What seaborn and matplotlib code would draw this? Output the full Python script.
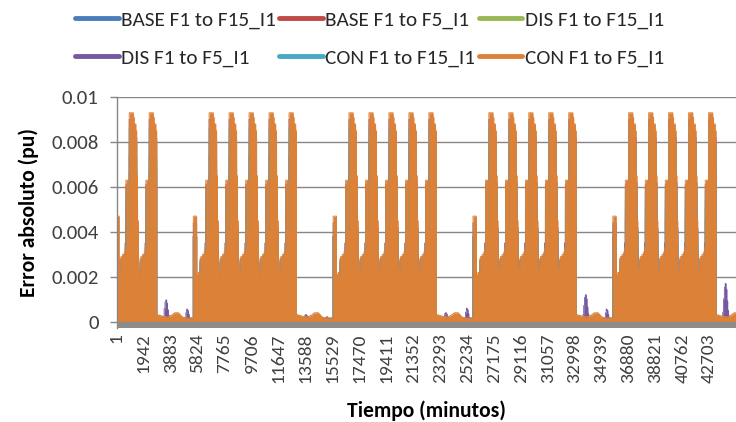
import numpy as np
import pandas as pd
import matplotlib
matplotlib.use("Agg")
import matplotlib.pyplot as plt
import seaborn as sns

# ---------------- data ----------------
series_names = ["BASE F1 to F15_I1", "BASE F1 to F5_I1", "DIS F1 to F15_I1",
                "DIS F1 to F5_I1", "CON F1 to F15_I1", "CON F1 to F5_I1"]
series_colors = ["#4A7EBB", "#BE4B48", "#98B954", "#7459A0", "#46AAC5", "#DC8138"]

# day kinds over the 31 days (44640 minutes)
day_kind = ["start", "wd", "sat", "sun", "mon", "wd", "wd", "wd", "wd",
            "sat", "sun", "mon", "wd", "wd", "wd", "wd",
            "sat", "sun", "mon", "wd", "wd", "wd", "wd",
            "sat", "sun", "mon", "wd", "wd", "wd", "wd", "sat"]

# hourly envelope of CON F1 to F5_I1 (orange)
con5_wd = [0.0065, 0.0045, 0.0024, 0.0021, 0.0028, 0.0029, 0.0029, 0.0030,
           0.0030, 0.0031, 0.0033, 0.0063, 0.0063, 0.0063, 0.0040, 0.0093,
           0.0093, 0.0093, 0.0093, 0.0093, 0.0091, 0.0088, 0.0088, 0.0085]
con5_mon_head = [0.0021, 0.0021, 0.0022, 0.0021]
con5_start_head = [0.0047, 0.0047, 0.0047, 0.0021]
con5_sat = [0.00032, 0.00030, 0.00030, 0.00028, 0.00027, 0.00026, 0.00025, 0.00024,
            0.00024, 0.00023, 0.00023, 0.00022, 0.00022, 0.00022, 0.00023, 0.00024,
            0.00026, 0.00028, 0.00030, 0.00033, 0.00036, 0.00038, 0.00040, 0.00040]
con5_sun = [0.00040, 0.00040, 0.00038, 0.00034, 0.00030, 0.00026, 0.00022, 0.00020,
            0.00019, 0.00018, 0.00018, 0.00017, 0.00017, 0.00016, 0.00016, 0.00016,
            0.00017, 0.00018, 0.00018, 0.00018, 0.0047, 0.0047, 0.0047, 0.0047]

# DIS F1 to F5_I1 (purple)
dis5_wd = [0.0062, 0.0042, 0.0023, 0.0020, 0.0027, 0.0028, 0.0028, 0.0029,
           0.0029, 0.0030, 0.0035, 0.0061, 0.0061, 0.0061, 0.0038, 0.0090,
           0.0090, 0.0090, 0.0090, 0.0090, 0.0088, 0.0086, 0.0085, 0.0082]
dis5_head = [0.0020, 0.0020, 0.0020, 0.0020]
dis5_weekend_base = 0.00015
dis5_sat_peak = [0.00097, 0.00032, 0.00040, 0.00120, 0.00170]
dis5_sun_peak = [0.00056, 0.00022, 0.00060, 0.00056]
sat_bump = [0, 0, 0, 0, 0, 0, 0, 0, 0.25, 0.6, 0.9, 1.0, 0.85, 0.55, 0.3, 0.15,
            0, 0, 0, 0, 0, 0, 0, 0]
sun_bump = [0, 0, 0, 0, 0, 0, 0, 0, 0, 0, 0.3, 0.7, 1.0, 0.9, 0.6, 0.3, 0.1,
            0, 0, 0, 0, 0, 0, 0]

# hidden series (all lie beneath the orange area)
base15_wd = [0.0050, 0.0035, 0.0019, 0.0017, 0.0022, 0.0023, 0.0023, 0.0024,
             0.0024, 0.0025, 0.0026, 0.0050, 0.0050, 0.0050, 0.0032, 0.0074,
             0.0074, 0.0074, 0.0074, 0.0074, 0.0072, 0.0070, 0.0070, 0.0068]
base5_wd = [0.0045, 0.0031, 0.0017, 0.0015, 0.0020, 0.0021, 0.0021, 0.0021,
            0.0021, 0.0022, 0.0023, 0.0045, 0.0045, 0.0045, 0.0028, 0.0066,
            0.0066, 0.0066, 0.0066, 0.0066, 0.0064, 0.0062, 0.0062, 0.0060]
dis15_wd = [0.0055, 0.0038, 0.0020, 0.0018, 0.0024, 0.0025, 0.0025, 0.0026,
            0.0026, 0.0027, 0.0028, 0.0054, 0.0054, 0.0054, 0.0034, 0.0080,
            0.0080, 0.0080, 0.0080, 0.0080, 0.0078, 0.0075, 0.0075, 0.0073]
con15_wd = [0.0060, 0.0041, 0.0022, 0.0019, 0.0026, 0.0027, 0.0027, 0.0028,
            0.0028, 0.0029, 0.0030, 0.0058, 0.0058, 0.0058, 0.0036, 0.0086,
            0.0086, 0.0086, 0.0086, 0.0086, 0.0084, 0.0081, 0.0081, 0.0079]
hidden_head = [0.0016, 0.0016, 0.0016, 0.0016]
hidden_weekend = [0.00012, 0.00010, 0.00011, 0.00013]
hidden_sun_spike = 0.0038

y_ticks = [0, 0.002, 0.004, 0.006, 0.008, 0.01]
y_tick_labels = ["0", "0.002", "0.004", "0.006", "0.008", "0.01"]
x_tick_labels = [1, 1942, 3883, 5824, 7765, 9706, 11647, 13588, 15529, 17470,
                 19411, 21352, 23293, 25234, 27175, 29116, 31057, 32998, 34939,
                 36880, 38821, 40762, 42703]
last_minute = 44640

# ---------------- build hourly series ----------------
def orange_day(kind):
    if kind == "wd":
        return list(con5_wd)
    if kind == "mon":
        return con5_mon_head + con5_wd[4:]
    if kind == "start":
        return con5_start_head + con5_wd[4:]
    if kind == "sat":
        return list(con5_sat)
    return list(con5_sun)

def purple_days():
    out = []
    si = ui = 0
    for k in day_kind:
        if k == "wd":
            out += dis5_wd
        elif k in ("mon", "start"):
            out += dis5_head + dis5_wd[4:]
        elif k == "sat":
            out += [max(dis5_weekend_base, dis5_sat_peak[si] * b) for b in sat_bump]
            si += 1
        else:
            day = [max(dis5_weekend_base, dis5_sun_peak[ui] * b) for b in sun_bump]
            day[20:] = [0.0044] * 4
            out += day
            ui += 1
    return out

def hidden_days(wd, wkend):
    out = []
    for k in day_kind:
        if k == "wd":
            out += wd
        elif k in ("mon", "start"):
            out += hidden_head + wd[4:]
        else:
            day = [wkend] * 24
            if k == "sun":
                day[20:] = [hidden_sun_spike] * 4
            out += day
    return out

orange = sum((orange_day(k) for k in day_kind), [])
values = {
    series_names[0]: hidden_days(base15_wd, hidden_weekend[0]),
    series_names[1]: hidden_days(base5_wd, hidden_weekend[1]),
    series_names[2]: hidden_days(dis15_wd, hidden_weekend[2]),
    series_names[3]: purple_days(),
    series_names[4]: hidden_days(con15_wd, hidden_weekend[3]),
    series_names[5]: orange,
}
n_hours = len(day_kind) * 24
minutes = [1 + 60 * h for h in range(n_hours)] + [last_minute]

rows = []
for name in series_names:
    v = values[name] + [values[name][-1]]
    for m, val in zip(minutes, v):
        rows.append((m, val, name))
df = pd.DataFrame(rows, columns=["minute", "value", "series"])

# ---------------- plot ----------------
sns.set_theme(style="white")
plt.rcParams["font.family"] = ["Carlito", "Lato", "DejaVu Sans"]

fig = plt.figure(figsize=(7.36, 4.22), dpi=100)
ax = fig.add_axes([116.7 / 736, 1 - 328 / 422, (736 - 116.7) / 736, (328 - 97) / 422])

palette = dict(zip(series_names, series_colors))
sns.lineplot(data=df, x="minute", y="value", hue="series", hue_order=series_names,
             palette=palette, estimator=None, drawstyle="steps-post",
             linewidth=0.6, ax=ax)

for i, name in enumerate(series_names):
    sub = df[df.series == name]
    ax.fill_between(sub["minute"], 0, sub["value"], step="post",
                    color=palette[name], linewidth=0, zorder=2 + i * 0.1)
for line in ax.lines:
    col = matplotlib.colors.to_hex(line.get_color()).upper()
    for i, c in enumerate(series_colors):
        if c.upper() == col:
            line.set_zorder(2 + i * 0.1 + 0.05)

ybot = -0.00028
ax.set_ylim(ybot, 0.01)
ax.set_xlim(1, last_minute)
ax.axhspan(ybot, 0, color="#8C8C8C", zorder=3, linewidth=0)

ax.set_yticks(y_ticks)
ax.set_yticklabels(y_tick_labels)
ax.set_xticks(x_tick_labels)
ax.set_xticklabels([str(t) for t in x_tick_labels], rotation=90)
ax.tick_params(axis="y", labelsize=15, length=5, width=1,
               direction="out", left=True, pad=8, color="#868686")
ax.tick_params(axis="x", labelsize=14, length=0, pad=4)
for lab in ax.get_yticklabels() + ax.get_xticklabels():
    lab.set_color("#404040")

ax.yaxis.grid(True, color="#868686", linewidth=1)
ax.xaxis.grid(False)
ax.set_axisbelow(True)
for s in ("top", "right", "bottom"):
    ax.spines[s].set_visible(False)
ax.spines["left"].set_color("#868686")
ax.spines["left"].set_linewidth(1)

ax.set_xlabel("Tiempo (minutos)", fontsize=15.5, fontweight="bold", color="#000000",
              labelpad=12)
ax.set_ylabel("Error absoluto (pu)", fontsize=15.5, fontweight="bold", color="#000000",
              labelpad=9)

handles, labels = ax.get_legend_handles_labels()
ax.get_legend().remove()
for h in handles:
    h.set_linewidth(3.5)
order = [0, 3, 1, 4, 2, 5]
fig.legend([handles[i] for i in order], [labels[i] for i in order],
           loc="upper center", bbox_to_anchor=(0.502, 1.005),
           ncol=3, frameon=False, fontsize=15.3, handlelength=2.05,
           handletextpad=0.12, columnspacing=0.15, labelspacing=0.95,
           borderaxespad=0.2)

fig.savefig("out.png", dpi=100)
